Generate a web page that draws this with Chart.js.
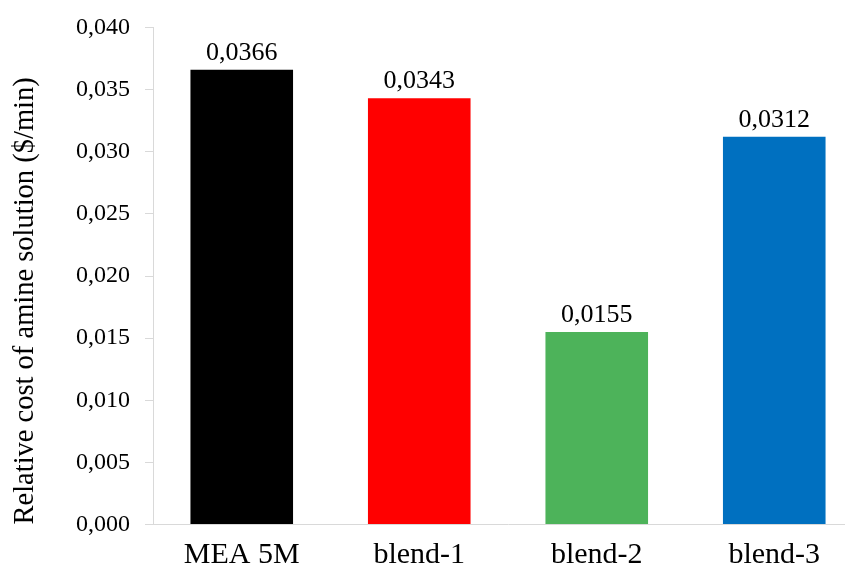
<!DOCTYPE html>
<html>
<head>
<meta charset="utf-8">
<script src="https://cdn.jsdelivr.net/npm/chart.js@4/dist/chart.umd.min.js"></script>
<style>
  html, body { margin: 0; padding: 0; background: #fff; overflow: hidden; }
  #wrap { width: 845px; height: 574px; overflow: hidden; }
  canvas { display: block; }
</style>
</head>
<body>
<div id="wrap"><canvas id="c" width="866" height="574"></canvas></div>
<script>
// Relative cost of each amine solution, $/min
const categories = ['MEA 5M', 'blend-1', 'blend-2', 'blend-3'];
const costValues = [0.0366, 0.0343, 0.0155, 0.0312];
const barColors = ['#000000', '#FF0000', '#4DB35A', '#0070C0'];
const yTicks = [0, 0.005, 0.010, 0.015, 0.020, 0.025, 0.030, 0.035, 0.040];

const serif = '"Liberation Serif", "Times New Roman", serif';
const comma = (v, d) => v.toFixed(d).replace('.', ',');

// Prints each bar's value above it
const valueLabels = {
  id: 'valueLabels',
  afterDatasetsDraw(chart) {
    const ctx = chart.ctx;
    const meta = chart.getDatasetMeta(0);
    ctx.save();
    ctx.font = '26px ' + serif;
    ctx.fillStyle = '#000';
    ctx.textAlign = 'center';
    ctx.textBaseline = 'alphabetic';
    meta.data.forEach((bar, i) => {
      ctx.fillText(comma(costValues[i], 4), bar.x, bar.y - 10);
    });
    ctx.restore();
  }
};

new Chart(document.getElementById('c'), {
  type: 'bar',
  data: {
    labels: categories,
    datasets: [{
      data: costValues,
      backgroundColor: barColors,
      borderWidth: 0,
      categoryPercentage: 1,
      barPercentage: 0.578
    }]
  },
  options: {
    responsive: false,
    animation: false,
    devicePixelRatio: 1,
    layout: { padding: { top: 27.5, right: 3, bottom: 0, left: 0 } },
    plugins: { legend: { display: false }, tooltip: { enabled: false } },
    scales: {
      x: {
        grid: { display: false, drawTicks: false },
        border: { display: true, color: '#D9D9D9', width: 1 },
        ticks: { color: '#000', font: { family: serif, size: 30 }, padding: 13 },
        afterFit(scale) {
          scale.height = 49.5;
          scale.paddingLeft = 0;
          scale.paddingRight = 0;
        }
      },
      y: {
        min: 0,
        max: 0.04,
        afterBuildTicks(scale) { scale.ticks = yTicks.map(v => ({ value: v })); },
        grid: { drawOnChartArea: false, drawTicks: true, tickLength: 8, color: '#D9D9D9' },
        border: { display: true, color: '#D9D9D9', width: 1 },
        ticks: {
          color: '#000',
          font: { family: serif, size: 24 },
          padding: 15,
          callback: v => comma(v, 3)
        },
        title: {
          display: true,
          text: 'Relative cost of amine solution ($/min)',
          color: '#000',
          font: { family: serif, size: 28.5 },
          align: 'start',
          padding: { top: 8, bottom: 0 }
        },
        afterFit(scale) {
          scale.width = 153;
          scale.paddingTop = 0;
          scale.paddingBottom = 0;
        }
      }
    }
  },
  plugins: [valueLabels]
});
</script>
</body>
</html>
